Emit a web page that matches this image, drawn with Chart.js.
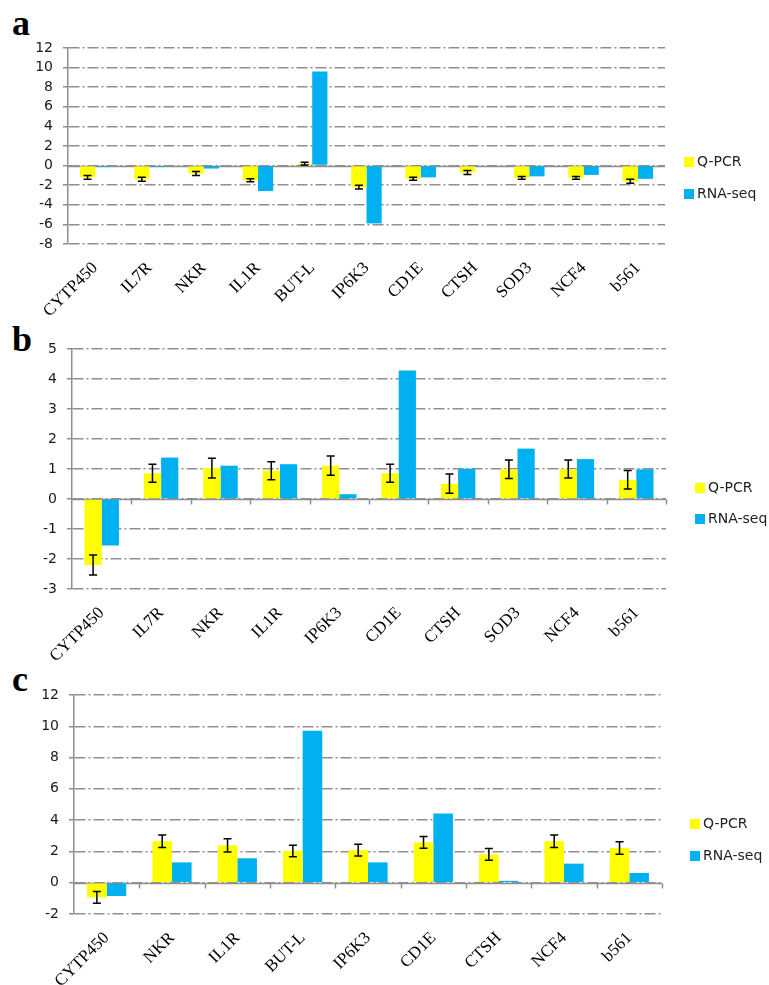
<!DOCTYPE html>
<html>
<head>
<meta charset="utf-8">
<script src="https://cdn.jsdelivr.net/npm/chart.js@4/dist/chart.umd.min.js"></script>
<style>
  body { margin: 0; background: #fff; }
  #wrap { position: relative; width: 769px; height: 985px; overflow: hidden; }
  .panel { position: absolute; left: 0; width: 769px; }
  .tag { position: absolute; font: bold 36px 'Liberation Serif', serif; color: #000; }
  .leg { position: absolute; font: 14px 'DejaVu Sans', sans-serif; color: #222; white-space: nowrap; }
  .leg span { display: inline-block; width: 10px; height: 10px; margin-right: 3px; vertical-align: -1px; }
</style>
</head>
<body>
<div id="wrap">
  <div class="tag" style="left:12px;top:2px;">a</div>
  <div class="tag" style="left:12px;top:318px;">b</div>
  <div class="tag" style="left:12px;top:658px;">c</div>

  <div class="panel" style="top:0;height:330px;"><canvas id="chartA"></canvas></div>
  <div class="panel" style="top:320px;height:350px;"><canvas id="chartB"></canvas></div>
  <div class="panel" style="top:660px;height:325px;"><canvas id="chartC"></canvas></div>

  <div class="leg" style="left:684px;top:153px;"><span style="background:#ffff00"></span>Q-PCR</div>
  <div class="leg" style="left:684px;top:185px;"><span style="background:#00b0f0"></span>RNA-seq</div>
  <div class="leg" style="left:695px;top:479px;"><span style="background:#ffff00"></span>Q-PCR</div>
  <div class="leg" style="left:695px;top:510px;"><span style="background:#00b0f0"></span>RNA-seq</div>
  <div class="leg" style="left:690px;top:815px;"><span style="background:#ffff00"></span>Q-PCR</div>
  <div class="leg" style="left:690px;top:847px;"><span style="background:#00b0f0"></span>RNA-seq</div>
</div>
<script>
'use strict';

// panel a
const genesA = ['CYTP450', 'IL7R', 'NKR', 'IL1R', 'BUT-L', 'IP6K3', 'CD1E', 'CTSH', 'SOD3', 'NCF4', 'b561'];
const qpcrA = [-1.2, -1.4, -0.8, -1.5, 0.2, -2.2, -1.35, -0.7, -1.25, -1.25, -1.6];
const errA = [0.2, 0.2, 0.2, 0.15, 0.15, 0.2, 0.15, 0.2, 0.15, 0.15, 0.2];
const rnaA = [-0.15, -0.15, -0.3, -2.6, 9.6, -5.9, -1.2, -0.1, -1.1, -0.95, -1.35];

// panel b
const genesB = ['CYTP450', 'IL7R', 'NKR', 'IL1R', 'IP6K3', 'CD1E', 'CTSH', 'SOD3', 'NCF4', 'b561'];
const qpcrB = [-2.2, 0.86, 1.03, 0.94, 1.11, 0.86, 0.51, 0.99, 1.0, 0.64];
const errB = [0.33, 0.3, 0.33, 0.3, 0.32, 0.3, 0.32, 0.31, 0.3, 0.31];
const rnaB = [-1.55, 1.38, 1.11, 1.16, 0.16, 4.28, 1.01, 1.68, 1.33, 0.99];

// panel c
const genesC = ['CYTP450', 'NKR', 'IL1R', 'BUT-L', 'IP6K3', 'CD1E', 'CTSH', 'NCF4', 'b561'];
const qpcrC = [-0.94, 2.65, 2.39, 2.03, 2.08, 2.58, 1.81, 2.65, 2.22];
const errC = [0.38, 0.4, 0.42, 0.37, 0.38, 0.38, 0.37, 0.4, 0.4];
const rnaC = [-0.85, 1.3, 1.56, 9.71, 1.3, 4.42, 0.12, 1.22, 0.62];

const gridGray = '#8f8f8f';

// solid zero line (with category ticks) + error bars on the Q-PCR series
const zeroLine = {
    id: 'zeroLine',
    beforeDatasetsDraw(chart, args, opts) {
        const ctx = chart.ctx;
        const area = chart.chartArea;
        const y0 = Math.round(chart.scales.y.getPixelForValue(0)) + 0.5;
        ctx.save();
        ctx.strokeStyle = gridGray;
        ctx.lineWidth = 1.5;
        ctx.beginPath();
        ctx.moveTo(area.left, y0);
        ctx.lineTo(area.right, y0);
        if (opts.ticks) {
            const xs = chart.scales.x;
            const n = chart.data.labels.length;
            for (let i = 1; i <= n; i++) {
                const x = (xs.getPixelForTick(i - 1) + (i < n ? xs.getPixelForTick(i) : area.right + (area.right - xs.getPixelForTick(n - 1)))) / 2;
                ctx.moveTo(Math.round(x) + 0.5, y0);
                ctx.lineTo(Math.round(x) + 0.5, y0 + 5);
            }
        }
        ctx.stroke();
        ctx.restore();
    }
};

const errorBars = {
    id: 'errorBars',
    afterDatasetsDraw(chart, args, opts) {
        const ctx = chart.ctx;
        const meta = chart.getDatasetMeta(0);
        const vals = chart.data.datasets[0].data;
        const ys = chart.scales.y;
        ctx.save();
        ctx.strokeStyle = '#000';
        ctx.lineWidth = 1.5;
        meta.data.forEach((bar, i) => {
            const top = ys.getPixelForValue(vals[i] + opts.err[i]);
            const bot = ys.getPixelForValue(vals[i] - opts.err[i]);
            const x = bar.x;
            ctx.beginPath();
            ctx.moveTo(x, top); ctx.lineTo(x, bot);
            ctx.moveTo(x - 4, top); ctx.lineTo(x + 4, top);
            ctx.moveTo(x - 4, bot); ctx.lineTo(x + 4, bot);
            ctx.stroke();
        });
        ctx.restore();
    }
};

function makeChart(id, cfg) {
    return new Chart(document.getElementById(id), {
        type: 'bar',
        data: {
            labels: cfg.labels,
            datasets: [{
                label: 'Q-PCR',
                data: cfg.qpcr,
                backgroundColor: '#ffff00',
                categoryPercentage: cfg.catPct,
                barPercentage: 1
            }, {
                label: 'RNA-seq',
                data: cfg.rna,
                backgroundColor: '#00b0f0',
                categoryPercentage: cfg.catPct,
                barPercentage: 1
            }]
        },
        options: {
            responsive: true,
            maintainAspectRatio: false,
            animation: false,
            layout: { padding: { top: cfg.top, right: cfg.right, left: 0, bottom: 0 } },
            plugins: {
                legend: { display: false },
                tooltip: { enabled: false },
                zeroLine: { ticks: cfg.zeroTicks },
                errorBars: { err: cfg.err }
            },
            scales: {
                x: {
                    afterFit(axis) { axis.height = cfg.xh; },
                    grid: { display: false },
                    border: { display: false },
                    ticks: {
                        autoSkip: false,
                        minRotation: 45,
                        maxRotation: 45,
                        padding: 6,
                        color: '#000',
                        font: { family: 'Liberation Serif', size: 17 }
                    }
                },
                y: {
                    min: cfg.min,
                    max: cfg.max,
                    afterFit(axis) { axis.width = cfg.yw; },
                    grid: { color: gridGray, lineWidth: 1.5, tickLength: 5, tickColor: gridGray },
                    border: { color: gridGray, width: 1.5, dash: [11, 3, 2, 3] },
                    ticks: {
                        stepSize: cfg.step,
                        autoSkip: false,
                        padding: 10,
                        color: '#1a1a1a',
                        font: { family: 'DejaVu Sans', size: 14 }
                    }
                }
            }
        },
        plugins: [zeroLine, errorBars]
    });
}

makeChart('chartA', {
    labels: genesA, qpcr: qpcrA, rna: rnaA, err: errA,
    min: -8, max: 12, step: 2, top: 48, right: 104, xh: 86, yw: 68, catPct: 0.56, zeroTicks: false
});
makeChart('chartB', {
    labels: genesB, qpcr: qpcrB, rna: rnaB, err: errB,
    min: -3, max: 5, step: 1, top: 29, right: 103, xh: 81, yw: 72, catPct: 0.58, zeroTicks: true
});
makeChart('chartC', {
    labels: genesC, qpcr: qpcrC, rna: rnaC, err: errC,
    min: -2, max: 12, step: 2, top: 35, right: 107, xh: 71, yw: 74, catPct: 0.6, zeroTicks: true
});
</script>
</body>
</html>
